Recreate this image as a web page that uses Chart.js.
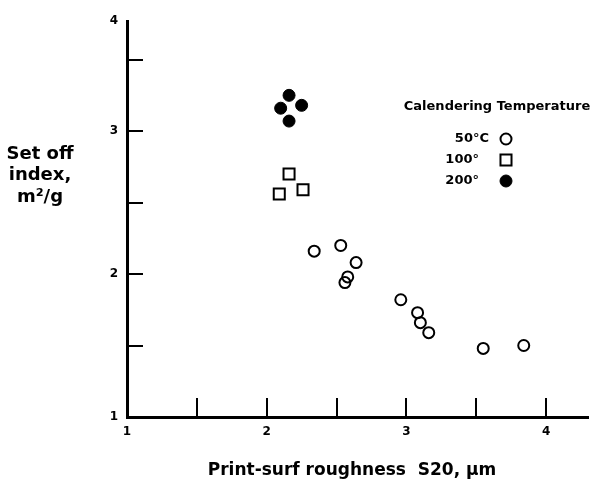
<!DOCTYPE html>
<html>
<head>
<meta charset="utf-8">
<script src="https://cdn.jsdelivr.net/npm/chart.js@4.4.0/dist/chart.umd.min.js"></script>
<style>
  html, body { margin: 0; padding: 0; background: #fff; }
  #wrap { width: 590px; height: 485px; position: relative; }
</style>
</head>
<body>
<div id="wrap"><canvas id="setoffChart"></canvas></div>
<script>
// Data (roughness S20 in um, set-off index in m2/g)
const rough50 = [2.34, 2.53, 2.64, 2.58, 2.56, 2.96, 3.08, 3.10, 3.16, 3.55, 3.84];
const setoff50 = [2.16, 2.20, 2.08, 1.98, 1.94, 1.82, 1.73, 1.66, 1.59, 1.48, 1.50];
const rough100 = [2.16, 2.09, 2.26];
const setoff100 = [2.70, 2.56, 2.59];
const rough200 = [2.16, 2.10, 2.25, 2.16];
const setoff200 = [3.25, 3.16, 3.18, 3.07];

const xTicks = [1, 1.5, 2, 2.5, 3, 3.5, 4];
const yTicks = [1, 1.5, 2, 2.5, 3, 3.5];
const legendLabels = ['50°C', '100°', '200°'];
const legendTitle = 'Calendering Temperature';
const xTitle = 'Print-surf roughness  S20, \u00b5m';
const yTitle = ['Set off', 'index,', 'm\u00b2/g'];

const X_MAX = 4.3;
const Y_MAX = 3.77;   // axis line stops short of 4, the "4" label sits at its top
const FONT = '"DejaVu Sans", sans-serif';

function toPoints(xs, ys) {
    return xs.map((x, i) => ({ x: x, y: ys[i] }));
}

// plugin: inward tick marks, axis titles, legend block
const decorPlugin = {
    id: 'decor',
    afterDraw(chart) {
        const ctx = chart.ctx;
        const xs = chart.scales.x;
        const ys = chart.scales.y;
        const area = chart.chartArea;
        ctx.save();
        ctx.strokeStyle = '#000';
        ctx.fillStyle = '#000';

        // y ticks pointing right
        ctx.lineWidth = 2;
        yTicks.filter(v => v > 1).forEach(v => {
            const py = Math.round(ys.getPixelForValue(v));
            ctx.beginPath();
            ctx.moveTo(area.left, py);
            ctx.lineTo(area.left + 16, py);
            ctx.stroke();
        });
        // x ticks pointing up
        xTicks.filter(v => v > 1).forEach(v => {
            const px = Math.round(xs.getPixelForValue(v));
            ctx.beginPath();
            ctx.moveTo(px, area.bottom);
            ctx.lineTo(px, area.bottom - 19);
            ctx.stroke();
        });

        // y title, horizontal, three lines
        ctx.font = 'bold 18px ' + FONT;
        ctx.textAlign = 'center';
        ctx.textBaseline = 'middle';
        yTitle.forEach((t, i) => ctx.fillText(t, 40, 154 + i * 21.5));

        // x title
        ctx.font = 'bold 17px ' + FONT;
        ctx.fillText(xTitle, 352, 471);

        // legend
        ctx.font = 'bold 13px ' + FONT;
        ctx.fillText(legendTitle, 497, 107);
        ctx.textAlign = 'right';
        const rows = [139, 160, 181];
        const rightEdge = [489, 479, 479];
        legendLabels.forEach((t, i) => ctx.fillText(t, rightEdge[i], rows[i]));
        chart.data.datasets.forEach((ds, i) => {
            ctx.lineWidth = ds.borderWidth;
            ctx.strokeStyle = ds.borderColor;
            ctx.fillStyle = ds.backgroundColor;
            Chart.helpers.drawPoint(ctx, {
                pointStyle: ds.pointStyle,
                radius: ds.pointRadius,
                borderWidth: ds.borderWidth,
                rotation: 0
            }, 506, rows[i]);
        });
        ctx.restore();
    }
};

const ctxChart = document.getElementById('setoffChart').getContext('2d');
const setoffChart = new Chart(ctxChart, {
    type: 'scatter',
    data: {
        datasets: [{
            label: legendLabels[0],
            data: toPoints(rough50, setoff50),
            pointStyle: 'circle',
            pointRadius: 5.5,
            borderWidth: 2,
            borderColor: '#000',
            backgroundColor: 'rgba(0,0,0,0)'
        }, {
            label: legendLabels[1],
            data: toPoints(rough100, setoff100),
            pointStyle: 'rect',
            pointRadius: 7.8,
            borderWidth: 2,
            borderColor: '#000',
            backgroundColor: 'rgba(0,0,0,0)'
        }, {
            label: legendLabels[2],
            data: toPoints(rough200, setoff200),
            pointStyle: 'circle',
            pointRadius: 6,
            borderWidth: 1,
            borderColor: '#000',
            backgroundColor: '#000'
        }]
    },
    options: {
        responsive: true,
        maintainAspectRatio: false,
        animation: false,
        // autoPadding off: the marker overflow padding was shrinking the plot on the right
        layout: { autoPadding: false, padding: { top: 21, right: 2, left: 0, bottom: 0 } },
        plugins: {
            legend: { display: false },
            tooltip: { enabled: false }
        },
        scales: {
            x: {
                type: 'linear',
                min: 1,
                max: X_MAX,
                afterFit: s => { s.height = 68; },
                afterBuildTicks: s => {
                    s.ticks = xTicks.map(v => ({ value: v })).concat([{ value: X_MAX }]);
                },
                // invisible outward ticks just push the labels down
                grid: { display: true, drawOnChartArea: false, drawTicks: true, tickLength: 8, color: 'rgba(0,0,0,0)' },
                border: { display: true, width: 3, color: '#000' },
                ticks: {
                    padding: 0,
                    color: '#000',
                    font: { family: FONT, weight: 'bold', size: 12 },
                    callback: v => Number.isInteger(v) ? String(v) : ''
                }
            },
            y: {
                type: 'linear',
                min: 1,
                max: Y_MAX,
                afterFit: s => { s.width = 127; },
                afterBuildTicks: s => {
                    s.ticks = yTicks.map(v => ({ value: v })).concat([{ value: Y_MAX }]);
                },
                grid: { display: false, drawTicks: false },
                border: { display: true, width: 3, color: '#000' },
                ticks: {
                    padding: 9,
                    color: '#000',
                    font: { family: FONT, weight: 'bold', size: 12 },
                    callback: v => v === Y_MAX ? '4' : (Number.isInteger(v) ? String(v) : '')
                }
            }
        }
    },
    plugins: [decorPlugin]
});
</script>
</body>
</html>
